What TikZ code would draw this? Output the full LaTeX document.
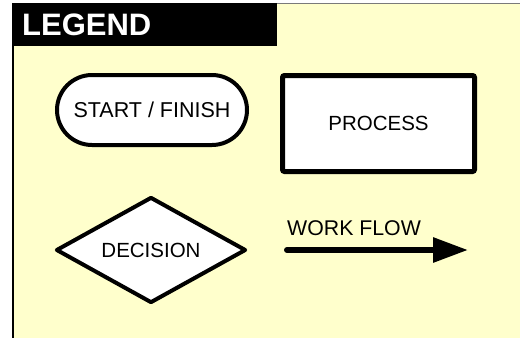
\documentclass[tikz,border=0pt]{standalone}
\usepackage{fontspec}
\setmainfont{Liberation Sans}
\usetikzlibrary{shapes.geometric,arrows.meta}
\definecolor{legbg}{HTML}{FFFFCC}
\definecolor{frame}{HTML}{7A7A7A}
\tikzset{
  shapebox/.style={draw=black, fill=white, line width=4pt, inner sep=0pt, font=\fontsize{20.5}{24}\selectfont},
  flowarrow/.style={line width=6pt, line cap=round, -{Triangle[length=35pt,width=24pt]}},
  legtext/.style={font=\fontsize{21.3}{24}\selectfont, inner sep=0pt}
}
\begin{document}
\begin{tikzpicture}[x=1pt,y=-1pt]
\useasboundingbox (0,0) rectangle (520,338);
\fill[white] (0,0) rectangle (520,338);
\fill[legbg] (13,3) rectangle (520,338);
\draw[frame, line width=1pt] (13,3) -- (520,3);
\draw[black, line width=2pt] (13,3) -- (13,338);
\fill[black] (12,3) rectangle (277,46);
\node[anchor=west, text=white, inner sep=0pt, font=\fontsize{31}{34}\bfseries] (legend) at (22,25) {LEGEND};
\node[shapebox, font=\fontsize{21.5}{24}\selectfont, rounded corners=35pt, minimum width=190pt, minimum height=70pt] (start) at (152,110) {START / FINISH};
\node[shapebox, line width=5pt, rounded corners=2pt, minimum width=192pt, minimum height=96pt] (process) at (378.5,123.5) {PROCESS};
\node[shapebox, diamond, aspect=1.77, line join=round, minimum width=190pt, minimum height=106pt] (decision) at (151,250) {DECISION};
\coordinate (a0) at (287,250);
\coordinate (a1) at (468,250);
\draw[flowarrow] (a0) -- (a1);
\node[legtext, anchor=base west] (wf) at (287,235) {WORK FLOW};
\end{tikzpicture}
\end{document}
